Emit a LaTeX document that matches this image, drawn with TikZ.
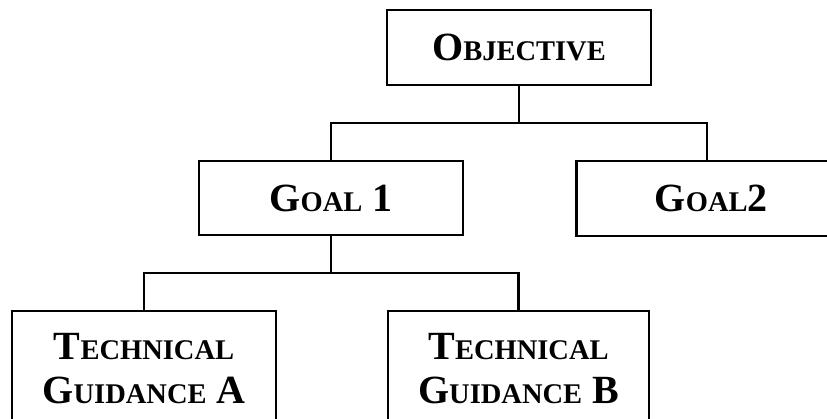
\documentclass[tikz,border=0pt]{standalone}
\usepackage{fontspec}
\setmainfont{Liberation Serif}
\newcommand\sm[1]{{\fontsize{28.5}{44}\selectfont #1}}
\tikzset{
  boxnode/.style={draw, line width=2.5pt, rectangle, inner sep=0pt, align=center,
    font=\fontsize{40}{44}\selectfont\bfseries},
  link/.style={line width=2.5pt}
}
\begin{document}
\begin{tikzpicture}[x=1pt,y=-1pt]
\useasboundingbox (0,0) rectangle (827,419);
\clip (0,0) rectangle (827,419);
\node[boxnode, minimum width=264pt, minimum height=75pt] (obj) at (519,47.5) {O\sm{BJECTIVE}};
\node[boxnode, minimum width=264pt, minimum height=74pt] (g1) at (331,198) {G\sm{OAL} 1};
\node[boxnode, minimum width=270pt, minimum height=75pt, anchor=west] (g2) at (575,198.5) {G\sm{OAL}2};
\node[boxnode, minimum width=264pt, minimum height=114pt, anchor=north] (tga) at (144,310) {T\sm{ECHNICAL}\\G\sm{UIDANCE} A};
\node[boxnode, minimum width=261pt, minimum height=114pt, anchor=north] (tgb) at (518.5,310) {T\sm{ECHNICAL}\\G\sm{UIDANCE} B};
\coordinate (h1) at (0,123);
\coordinate (h2) at (0,273);
\coordinate (g2top) at (707,161);
\draw[link] (obj.south) -- (obj.south |- h1);
\draw[link] (g1.north) -- (g1.north |- h1) -- (g2top |- h1) -- (g2top);
\draw[link] (g1.south) -- (g1.south |- h2);
\draw[link] (tga.north) -- (tga.north |- h2) -- (tgb.north |- h2) -- (tgb.north);
\end{tikzpicture}
\end{document}
